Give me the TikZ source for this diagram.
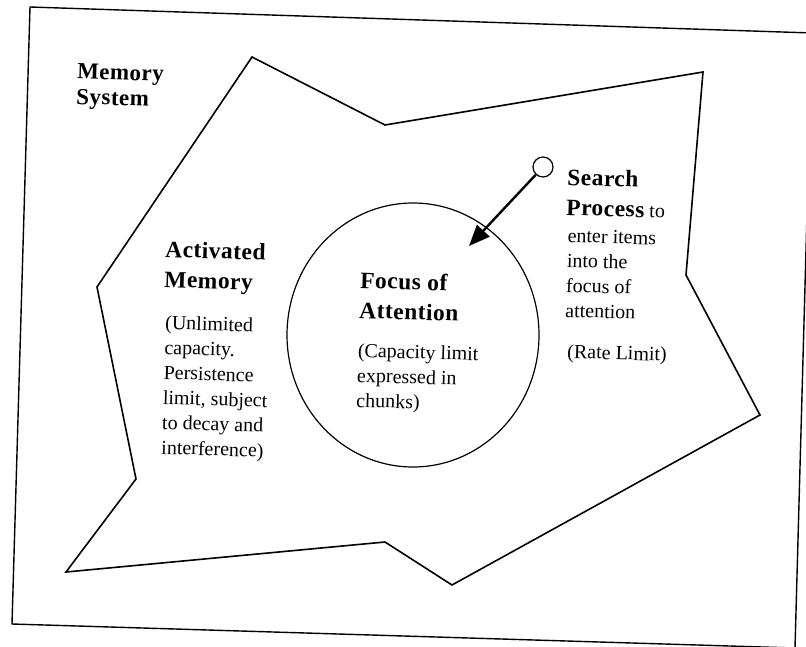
\documentclass[tikz,border=0pt]{standalone}
\usepackage{fontspec}
\setmainfont{Liberation Serif}
\usetikzlibrary{arrows.meta}

\begin{document}
\begin{tikzpicture}[x=1pt,y=-1pt,
  head/.style={anchor=base west,align=left,inner sep=0pt,rotate=-1.8,font=\fontsize{23.5}{30}\selectfont\bfseries\addfontfeature{LetterSpace=2}},
  body/.style={anchor=base west,align=left,inner sep=0pt,rotate=-1.8,font=\fontsize{20}{25}\selectfont}]
\useasboundingbox (0,0) rectangle (806,647);
\clip (0,0) rectangle (806,647);

\draw[line width=1.4pt] (30,7) -- (812,33) -- (795,648) -- (12,624) -- cycle;
\draw[line width=1.6pt] (252,57) -- (385,125) -- (703,72) -- (686,275) -- (760,415) -- (452,585)
  -- (385,542) -- (66,572) -- (136,479) -- (97,287) -- cycle;
\draw[line width=1.2pt] (413,335) ellipse [x radius=126pt, y radius=132pt];

\node[head,font=\fontsize{23}{25.5}\selectfont\bfseries\addfontfeature{LetterSpace=2}] (mem) at (76,104) {Memory\\System};

\node[head] (act) at (164,287) {Activated\\Memory};
\node[body] (actnote) at (161,454) {(Unlimited\\capacity.\\Persistence\\limit, subject\\to decay and\\interference)};

\node[head] (foc) at (359,318) {Focus of\\Attention};
\node[body] (focnote) at (356,407) {(Capacity limit\\expressed in\\chunks)};

\node[head] (srch) at (566,215) {Search\\Process{\mdseries\fontsize{20}{25}\selectfont\addfontfeature{LetterSpace=0}\ to}};
\node[body] (srchnote) at (565,317) {enter items\\into the\\focus of\\attention};
\node[body] (rate) at (567,358) {(Rate Limit)};

\node[draw,circle,line width=1.2pt,minimum size=20pt,inner sep=0pt] (src) at (543,167) {};
\coordinate (tip) at (469,246);
\draw[line width=2.4pt,-{Triangle[length=21pt,width=17pt]}] (src) -- (tip);

\end{tikzpicture}
\end{document}
